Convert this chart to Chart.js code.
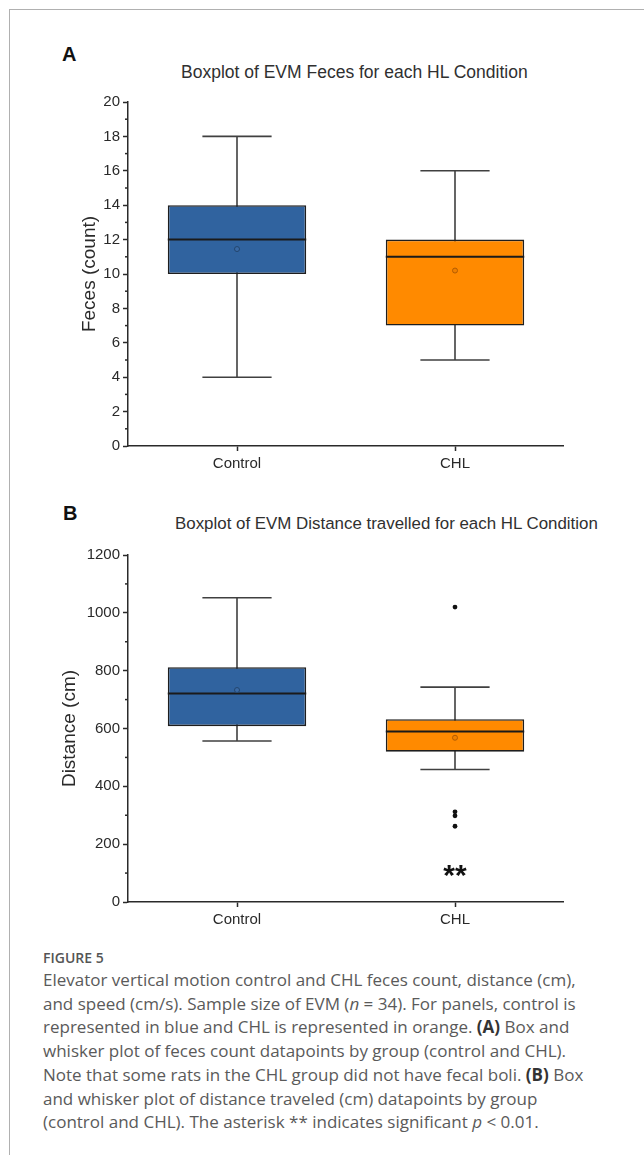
<!DOCTYPE html>
<html>
<head>
<meta charset="utf-8">
<script src="https://cdn.jsdelivr.net/npm/chart.js@4.4.0/dist/chart.umd.min.js"></script>
<style>
  body { margin: 0; width: 644px; height: 1155px; background: #fff; position: relative; overflow: hidden; }
  .frame { position: absolute; left: 9px; top: 9px; width: 700px; height: 1200px; border-left: 1.5px solid #b0b0b0; border-top: 1.5px solid #b0b0b0; }
  .letter { position: absolute; font: bold 20px/20px "Liberation Sans", Arial, sans-serif; color: #111; }
  .title { position: absolute; font: 16.9px/17px "Liberation Sans", Arial, sans-serif; color: #303030; white-space: nowrap; }
  canvas { position: absolute; left: 0; }
  .fig { position: absolute; left: 43px; top: 951px; font: 600 14px/14px "Open Sans", sans-serif; color: #555; }
  .caption { position: absolute; left: 43px; top: 968px; font: 17px/23.7px "Open Sans", sans-serif; color: #5a5a5a; white-space: nowrap; }
  .caption b { color: #333; }
</style>
</head>
<body>
<div class="frame"></div>
<div class="letter" style="left:62px; top:44px;">A</div>
<div class="title" style="left:181px; top:64px; font-size:17.5px;">Boxplot of EVM Feces for each HL Condition</div>
<canvas id="fecesChart" width="564" height="400" style="top:90px;"></canvas>
<div class="letter" style="left:63px; top:503px;">B</div>
<div class="title" style="left:175px; top:515px;">Boxplot of EVM Distance travelled for each HL Condition</div>
<canvas id="distanceChart" width="564" height="402" style="top:543px;"></canvas>
<div class="fig">FIGURE 5</div>
<div class="caption">Elevator vertical motion control and CHL feces count, distance (cm),<br>
and speed (cm/s). Sample size of EVM (<i>n</i> = 34). For panels, control is<br>
represented in blue and CHL is represented in orange. <b>(A)</b> Box and<br>
whisker plot of feces count datapoints by group (control and CHL).<br>
Note that some rats in the CHL group did not have fecal boli. <b>(B)</b> Box<br>
and whisker plot of distance traveled (cm) datapoints by group<br>
(control and CHL). The asterisk ** indicates significant <i>p</i> &lt; 0.01.</div>
<script>
const groups = ['Control', 'CHL'];
const boxColors = ['#30639f', '#ff8a00'];
const meanColors = ['#3a6aa5', '#f08000'];
const meanBorders = ['#23466f', '#b35c00'];

// Panel A: feces count
const fecesMin = [4, 5];
const fecesQ1 = [10, 7];
const fecesMedian = [12, 11];
const fecesQ3 = [14, 12];
const fecesMax = [18, 16];
const fecesMean = [11.45, 10.2];

// Panel B: distance travelled (cm)
const distMin = [557, 458];
const distQ1 = [608, 520];
const distMedian = [721, 590];
const distQ3 = [812, 632];
const distMax = [1052, 743];
const distMean = [733, 568];
const outlierGroups = ['CHL', 'CHL', 'CHL', 'CHL'];
const outlierValues = [1020, 312, 298, 262];

const font = '"Liberation Sans", Arial, sans-serif';
const ink = '#2a2a2a';

// whiskers, medians, minor ticks and the significance mark
const boxPlugin = {
    id: 'boxWhiskers',
    beforeDatasetsDraw(chart, args, opts) {
        const { ctx } = chart;
        const y = chart.scales.y;
        const meta = chart.getDatasetMeta(0);
        ctx.save();
        ctx.strokeStyle = '#404040';
        ctx.lineWidth = 1.6;
        opts.min.forEach((v, i) => {
            const bar = meta.data[i];
            const half = bar.width * 0.25;
            const yMin = y.getPixelForValue(v);
            const yMax = y.getPixelForValue(opts.max[i]);
            ctx.beginPath();
            ctx.moveTo(bar.x, yMin); ctx.lineTo(bar.x, yMax);
            ctx.moveTo(bar.x - half, yMin); ctx.lineTo(bar.x + half, yMin);
            ctx.moveTo(bar.x - half, yMax); ctx.lineTo(bar.x + half, yMax);
            ctx.stroke();
        });
        ctx.restore();
    },
    afterDatasetDraw(chart, args, opts) {
        if (args.index !== 0) return;
        const { ctx } = chart;
        const y = chart.scales.y;
        const meta = chart.getDatasetMeta(0);
        ctx.save();
        ctx.strokeStyle = '#1a1a1a';
        ctx.lineWidth = 2;
        opts.median.forEach((v, i) => {
            const bar = meta.data[i];
            const py = y.getPixelForValue(v);
            ctx.beginPath();
            ctx.moveTo(bar.x - bar.width / 2, py);
            ctx.lineTo(bar.x + bar.width / 2, py);
            ctx.stroke();
        });
        ctx.restore();
    },
    afterDraw(chart, args, opts) {
        const { ctx } = chart;
        const y = chart.scales.y;
        ctx.save();
        ctx.strokeStyle = ink;
        ctx.lineWidth = 1.5;
        for (let v = y.min + opts.minorStep; v < y.max; v += opts.minorStep * 2) {
            const py = y.getPixelForValue(v);
            ctx.beginPath();
            ctx.moveTo(y.right - 3, py);
            ctx.lineTo(y.right, py);
            ctx.stroke();
        }
        if (opts.sigLabel) {
            const x = chart.scales.x;
            ctx.fillStyle = '#111';
            ctx.font = 'bold 30px ' + font;
            ctx.textAlign = 'center';
            ctx.textBaseline = 'alphabetic';
            ctx.fillText(opts.sigLabel, x.getPixelForValue(groups.indexOf(opts.sigGroup)), y.getPixelForValue(opts.sigValue));
        }
        ctx.restore();
    }
};

function makeBoxChart(canvasId, s) {
    const datasets = [{
        type: 'bar',
        data: groups.map((g, i) => [s.q1[i], s.q3[i]]),
        backgroundColor: boxColors,
        borderColor: '#1e1e1e',
        borderWidth: 1.6,
        borderSkipped: false,
        barPercentage: 0.635,
        categoryPercentage: 1,
        order: 3
    }, {
        type: 'line',
        data: s.mean,
        showLine: false,
        pointRadius: 2.5,
        pointBorderWidth: 1,
        pointBackgroundColor: meanColors,
        pointBorderColor: meanBorders,
        order: 2
    }];
    if (s.outliers) {
        datasets.push({
            type: 'line',
            data: s.outliers.groups.map((g, i) => ({ x: g, y: s.outliers.values[i] })),
            showLine: false,
            pointRadius: 2.4,
            pointBorderWidth: 0,
            pointBackgroundColor: '#111',
            order: 1
        });
    }
    return new Chart(document.getElementById(canvasId), {
        type: 'bar',
        data: { labels: groups, datasets },
        options: {
            responsive: false,
            animation: false,
            devicePixelRatio: 1,
            layout: { autoPadding: false, padding: { top: 8, left: 0, right: 0, bottom: 0 } },
            plugins: {
                legend: { display: false },
                tooltip: { enabled: false },
                boxWhiskers: {
                    min: s.min, max: s.max, median: s.median, minorStep: s.step / 2,
                    sigLabel: s.sigLabel, sigGroup: s.sigGroup, sigValue: s.sigValue
                }
            },
            scales: {
                x: {
                    offset: true,
                    afterFit: sc => { sc.height = s.xHeight; },
                    grid: { offset: false, drawOnChartArea: false, tickLength: 5, tickColor: ink, tickWidth: 1.5 },
                    border: { color: ink, width: 1.5 },
                    ticks: { color: ink, padding: 4, font: { family: font, size: 15 } }
                },
                y: {
                    min: s.yMin,
                    max: s.yMax,
                    afterFit: sc => { sc.width = 128; },
                    grid: { drawOnChartArea: false, tickLength: 5, tickColor: ink, tickWidth: 1.5 },
                    border: { color: ink, width: 1.5 },
                    ticks: { stepSize: s.step, color: ink, padding: 3, font: { family: font, size: 15 }, callback: v => String(v) },
                    title: {
                        display: true,
                        text: s.yTitle,
                        color: ink,
                        font: { family: font, size: 19 },
                        padding: { top: s.titlePad, bottom: 0 }
                    }
                }
            }
        },
        plugins: [boxPlugin]
    });
}

makeBoxChart('fecesChart', {
    min: fecesMin, q1: fecesQ1, median: fecesMedian, q3: fecesQ3, max: fecesMax, mean: fecesMean,
    yMin: 0, yMax: 20, step: 2, yTitle: 'Feces (count)', titlePad: 78, xHeight: 44
});

makeBoxChart('distanceChart', {
    min: distMin, q1: distQ1, median: distMedian, q3: distQ3, max: distMax, mean: distMean,
    outliers: { groups: outlierGroups, values: outlierValues },
    yMin: 0, yMax: 1200, step: 200, yTitle: 'Distance (cm)', titlePad: 58, xHeight: 43,
    sigLabel: '**', sigGroup: 'CHL', sigValue: 58
});
</script>
</body>
</html>
